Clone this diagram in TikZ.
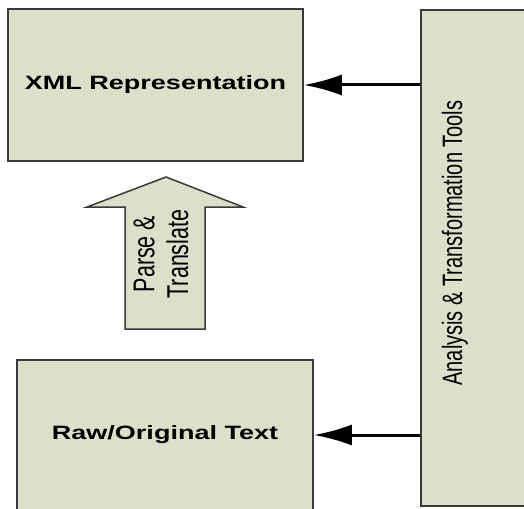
\documentclass[tikz,border=0pt]{standalone}
\usepackage{fontspec}
\setmainfont{Liberation Sans}
\newfontfamily\wideface[FakeStretch=1.4]{Liberation Sans}
\usetikzlibrary{arrows.meta,positioning}
\definecolor{Ink}{HTML}{3A3A3A}
\definecolor{Sage}{HTML}{DCE0CA}
\tikzset{panel/.style={draw=Ink,fill=Sage,line width=1.5pt,inner sep=0pt,align=center},paneltext/.style={font=\wideface\bfseries\fontsize{19.3}{23}\selectfont},sidetext/.style={xscale=1.4,rotate=90,align=center,font=\fontsize{20}{24}\selectfont},feed/.style={-{Latex[length=38pt,width=21pt]},line width=3pt},bigarrow/.style={draw=Ink,fill=Sage,line width=1.5pt,line join=miter}}

\begin{document}
\begin{tikzpicture}[x=1pt,y=-1pt]
      \useasboundingbox(0,0)rectangle(524,508);\clip(0,0)rectangle(524,508);
      \node[panel,minimum width=295pt,minimum height=152pt,paneltext](xml)at(155.5,85){XML Representation};
      \node[panel,minimum width=296pt,minimum height=150pt,paneltext](raw)at(165,435){Raw/Original Text};
      \node[panel,minimum width=180pt,minimum height=496pt](tools)at(511,258){};
      \node[sidetext](toolslabel)at(455,243){Analysis \& Transformation Tools};
      \draw[bigarrow](87,207)--(166,177)--(243,207)--(205,207)--(205,329)--(125,329)--(125,207)--cycle;
      \node[sidetext,font=\fontsize{21.5}{24}\selectfont](parse)at(161,254){Parse \&\\Translate};
      \draw[feed](tools.west |- xml.east)--(xml.east);\draw[feed](tools.west |- raw.east)--(raw.east);
    \end{tikzpicture}
\end{document}
